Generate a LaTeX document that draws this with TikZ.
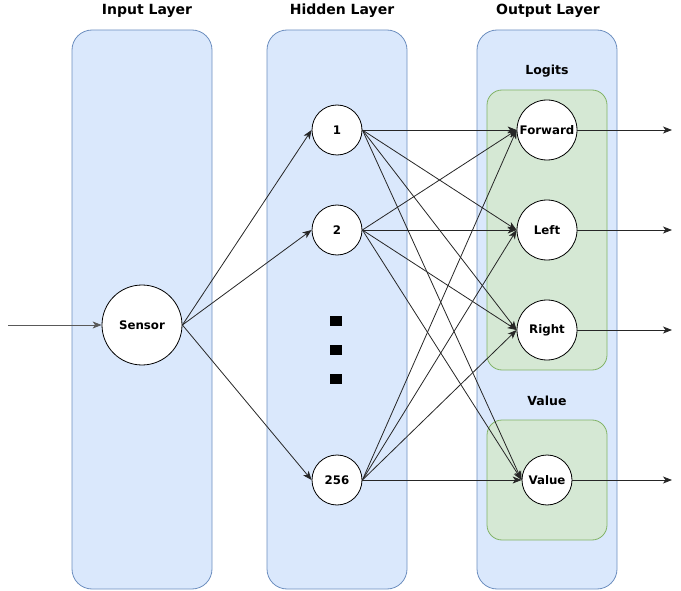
\documentclass[tikz,border=0pt]{standalone}
\usepackage{fontspec}
\setmainfont{DejaVu Sans}
\usetikzlibrary{arrows.meta}
\definecolor{layerfill}{HTML}{DAE8FC}
\definecolor{layerline}{HTML}{6C8EBF}
\definecolor{groupfill}{HTML}{D5E8D4}
\definecolor{groupline}{HTML}{82B366}
\tikzset{
  layer/.style={draw=layerline, fill=layerfill, rounded corners=20, line width=0.8pt},
  group/.style={draw=groupline, fill=groupfill, rounded corners=15, line width=0.8pt},
  title/.style={font=\bfseries\fontsize{14}{16}\selectfont},
  grouplabel/.style={font=\bfseries\fontsize{12.5}{14}\selectfont},
  neuron/.style={circle, draw=black, fill=white, line width=0.8pt, inner sep=0pt,
    font=\bfseries\fontsize{11.8}{13}\selectfont},
  link/.style={draw=black!85, line width=0.8pt, -{Stealth[length=9, width=7, inset=2.5]}},
  dotmark/.style={fill=black, minimum width=12, minimum height=10, inner sep=0pt},
}
\begin{document}
\begin{tikzpicture}[x=1pt, y=-1pt]
\useasboundingbox (0,0) rectangle (681,591);

% layer panels
\draw[layer] (72,30) rectangle (212,589);
\draw[layer] (267,30) rectangle (407,589);
\draw[layer] (477,30) rectangle (617,589);
\node[title] (tin) at (147,11) {Input Layer};
\node[title] (thid) at (342,11) {Hidden Layer};
\node[title] (tout) at (548,11) {Output Layer};

% output groups
\draw[group] (487,90) rectangle (607,370);
\draw[group] (487,420) rectangle (607,540);
\node[grouplabel] (glog) at (547,71) {Logits};
\node[grouplabel] (gval) at (547,401) {Value};

% neurons
\node[neuron, minimum size=80] (sensor) at (142,325) {Sensor};
\node[neuron, minimum size=50] (h1) at (337,130) {1};
\node[neuron, minimum size=50] (h2) at (337,230) {2};
\node[neuron, minimum size=50] (h256) at (337,480) {256};
\node[neuron, minimum size=60] (fwd) at (547,130) {Forward};
\node[neuron, minimum size=60] (left) at (547,230) {Left};
\node[neuron, minimum size=60] (right) at (547,330) {Right};
\node[neuron, minimum size=50] (val) at (547,480) {Value};

% ellipsis between hidden units
\node[dotmark] (d1) at (336,321) {};
\node[dotmark] (d2) at (336,350) {};
\node[dotmark] (d3) at (336,379) {};

% free ends of the input and output connectors
\coordinate (inp) at (8,325);
\coordinate (ofwd) at (672,130);
\coordinate (oleft) at (672,230);
\coordinate (oright) at (672,330);
\coordinate (oval) at (672,480);

% connections
\draw[link, draw=black!65] (inp) -- (sensor.west);
\foreach \h in {h1,h2,h256}
  \draw[link] (sensor.east) -- (\h.west);
\foreach \h in {h1,h2,h256}
  \foreach \o in {fwd,left,right,val}
    \draw[link] (\h.east) -- (\o.west);
\draw[link] (fwd.east) -- (ofwd);
\draw[link] (left.east) -- (oleft);
\draw[link] (right.east) -- (oright);
\draw[link] (val.east) -- (oval);
\end{tikzpicture}
\end{document}
